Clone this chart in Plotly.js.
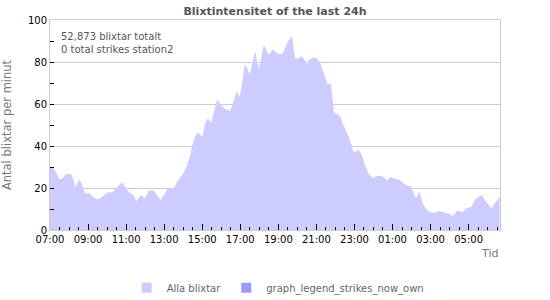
<!DOCTYPE html>
<html>
<head>
<meta charset="utf-8">
<script src="https://cdn.plot.ly/plotly-3.0.1.min.js"></script>
<style>html,body{margin:0;padding:0;background:#fff;}#chart{width:550px;height:300px;}</style>
</head>
<body>
<div id="chart"></div>
<script>
// Minutes after 07:00 (start of the 24h window)
const minutesFromStart = [
  0,6,18,30,40,50,66,71,80,92,
  100,110,124,134,145,155,166,181,197,211,
  226,239,250,263,272,286,299,312,328,338,
  348,359,372,391,401,417,431,441,449,456,
  466,480,491,498,508,517,527,538,553,569,
  580,588,598,606,614,622,630,641,647,653,
  658,666,674,682,689,703,716,732,742,752,
  763,768,773,784,794,803,810,818,831,842,
  852,860,868,875,886,891,896,907,915,925,
  936,949,957,965,973,983,993,1004,1017,1031,
  1046,1057,1062,1075,1088,1104,1117,1130,1137,1145,
  1154,1165,1175,1187,1200,1214,1228,1240,1256,1271,
  1284,1301,1313,1329,1340,1350,1361,1371,1385,1392,
  1403,1418
];
// Strikes per minute (all strikes)
const allStrikes = [
  30,30.2,27.8,24.1,24.6,26.7,26.7,25.4,20.3,24.1,
  22.2,17.5,17.5,15.9,14.8,14.8,15.9,17.8,17.8,20.3,
  22.7,20.1,17.8,16.7,13.5,16.7,15.1,18.7,18.7,16.7,
  14.3,16.5,20,20,23,26.2,30.2,34.9,40.5,43.7,
  46.5,44.4,51.6,53.2,51.1,56.3,62.2,59.8,57.5,56.8,
  62.7,65.9,63.5,69.8,79,77,74,81.7,85.4,80.2,
  76.5,81.7,88.1,86,83.3,86,84.1,83.8,87.3,90.2,
  92.4,87.3,81.7,81.7,82.9,81,78.9,81.3,82.2,81.7,
  79.4,76.2,72.2,69.5,69.5,61.9,55.6,55.2,54,50,
  46.5,41.3,37.3,37.3,38.4,35.7,31,27,24.6,25.7,
  25.7,24.6,23.5,25.4,24.3,23.8,21.9,21,21,18.3,
  15.1,18.3,12.7,9.8,8.4,8.3,8.9,8.4,7.9,6.7,
  9.2,8.4,10.3,11.1,14.3,15.6,16.7,14.3,11.9,10.3,
  12.7,15.9
];
// Own station strikes (0 total: no strikes to draw)
const ownStrikes = [null];
const ownTimes = [null];

const seriesNames = ["Alla blixtar", "graph_legend_strikes_now_own"];
const seriesColors = ["#ccccff", "#9999ff"];
const titleText = "Blixtintensitet of the last 24h";
const yTitle = "Antal blixtar per minut";
const xTitle = "Tid";
const infoLines = ["52,873 blixtar totalt", "0 total strikes station2"];
const startTime = "2024-01-01T07:00:00";
const endTime = "2024-01-02T06:39:00";

const t0 = new Date(startTime).getTime();
function fmt(ms){
  const d = new Date(ms);
  const p = n => String(n).padStart(2,'0');
  return d.getFullYear()+'-'+p(d.getMonth()+1)+'-'+p(d.getDate())+' '+p(d.getHours())+':'+p(d.getMinutes())+':00';
}
const times = minutesFromStart.map(m => fmt(t0 + m*60000));

const FONT = "DejaVu Sans, Verdana, sans-serif";

const traces = [
  {
    type: 'scatter', mode: 'lines', x: times, y: allStrikes,
    fill: 'tozeroy', fillcolor: seriesColors[0], line: {width: 0, color: seriesColors[0]},
    name: seriesNames[0], showlegend: false, legendgroup: 'all', hoverinfo: 'x+y'
  },
  {
    // legend swatch for the area above
    type: 'scatter', mode: 'markers', x: [null], y: [null], name: seriesNames[0], legendgroup: 'all',
    marker: {color: seriesColors[0], symbol: 'square', size: 10, line: {width: 0}}
  },
  {
    type: 'scatter', mode: 'markers', x: ownTimes, y: ownStrikes, name: seriesNames[1],
    marker: {color: seriesColors[1], symbol: 'square', size: 10, line: {width: 0}}
  }
];

const layout = {
  width: 550, height: 300,
  margin: {l: 50, r: 50, t: 20, b: 70, autoexpand: false},
  paper_bgcolor: '#ffffff', plot_bgcolor: '#ffffff',
  font: {family: FONT, size: 10, color: '#000'},
  title: {text: titleText, font: {family: FONT, size: 11, color: '#555', weight: 'bold'},
          x: 0.5, xref: 'container', y: 0.963, yref: 'container', yanchor: 'middle'},
  showlegend: true,
  legend: {orientation: 'h', x: 0.507, xanchor: 'center', y: -0.275, yanchor: 'middle',
           font: {family: FONT, size: 10, color: '#666'}, bgcolor: 'rgba(0,0,0,0)',
           itemwidth: 30},
  xaxis: {
    type: 'date', range: [startTime, endTime],
    tick0: startTime, dtick: 7200000, tickformat: '%H:%M',
    ticks: 'inside', ticklen: 6, tickcolor: '#000', tickwidth: 1,
    showgrid: false, zeroline: false, automargin: false,
    showline: true, linecolor: '#cccccc', mirror: true,
    tickfont: {family: FONT, size: 10, color: '#000'},
    minor: {dtick: 1800000, tick0: startTime, ticks: 'inside', ticklen: 3, tickcolor: '#000', showgrid: false},
    fixedrange: true
  },
  yaxis: {
    range: [0, 100], dtick: 20, tick0: 0,
    ticks: 'inside', ticklen: 4, tickcolor: '#000',
    showgrid: true, gridcolor: '#cccccc', gridwidth: 1, zeroline: false, automargin: false,
    showline: true, linecolor: '#cccccc', mirror: true,
    tickfont: {family: FONT, size: 10, color: '#000'},
    title: {text: yTitle, font: {family: FONT, size: 11.5, color: '#777'}, standoff: 16},
    minor: {dtick: 10, ticks: 'inside', ticklen: 4, tickcolor: '#000', showgrid: false},
    fixedrange: true
  },
  annotations: [
    {text: infoLines.join('<br>'), xref: 'paper', yref: 'paper', x: 0.02, y: 0.955,
     xanchor: 'left', yanchor: 'top', align: 'left', showarrow: false,
     font: {family: FONT, size: 10, color: '#555'}},
    {text: xTitle, xref: 'paper', yref: 'paper', x: 1.0, y: -0.11,
     xanchor: 'right', yanchor: 'middle', showarrow: false,
     font: {family: FONT, size: 11, color: '#777'}}
  ]
};

Plotly.newPlot('chart', traces, layout, {staticPlot: true, displayModeBar: false});
</script>
</body>
</html>
